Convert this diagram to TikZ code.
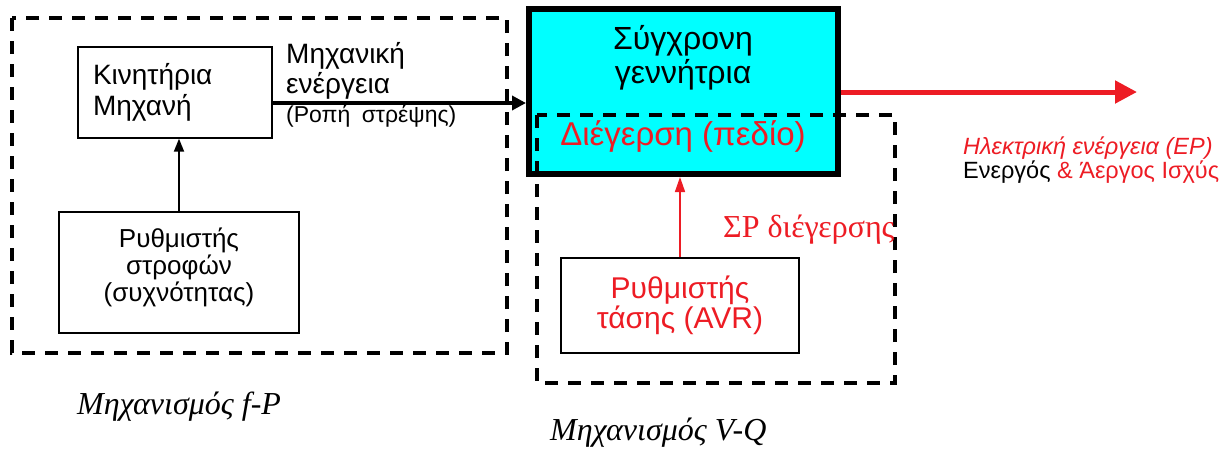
\documentclass[tikz,border=0pt]{standalone}
\usepackage{fontspec}
\setmainfont{Liberation Sans}
\newfontfamily\tms{Liberation Serif}
\usetikzlibrary{arrows.meta}
\definecolor{gred}{RGB}{237,28,36}
\definecolor{gcyan}{RGB}{0,255,255}
\begin{document}
\begin{tikzpicture}[x=1pt,y=-1pt,
  blockbox/.style={draw=black,line width=1.3pt,fill=white,inner sep=0pt},
  groupbox/.style={draw=black,line width=3.2pt,dash pattern=on 13pt off 10pt},
  txt/.style={align=center},
  caption/.style={anchor=west,inner sep=0pt,font=\tms\itshape\fontsize{32}{36}\selectfont},
]
\useasboundingbox (0,0) rectangle (1230,459);

% f-P control group
\draw[groupbox] (12,18) rectangle (507,353);
\node[blockbox,minimum width=194pt,minimum height=91pt,text width=164pt,inner xsep=15pt,
      align=left,font=\fontsize{28}{31}\selectfont] (kin) at (175,92.5) {Κινητήρια\\Μηχανή};
\node[blockbox,minimum width=240pt,minimum height=121pt] (gov) at (179,272.5) {};
\node[txt,font=\fontsize{26}{27}\selectfont] (govtxt) at (179,267) {Ρυθμιστής\\στροφών\\(συχνότητας)};
\draw[line width=1.8pt,-{Triangle[length=13pt,width=10pt]}] (gov.north) -- (gov.north |- kin.south);

% synchronous generator
\node[draw=black,fill=gcyan,line width=6pt,minimum width=309pt,minimum height=165pt,inner sep=0pt] (gen) at (683.5,91.5) {};
\node[txt,font=\fontsize{32}{34}\selectfont] (gentxt) at (683,58) {Σύγχρονη\\γεννήτρια};

% V-Q control group
\draw[groupbox] (537,115) rectangle (895,383);
\node[txt,text=gred,font=\fontsize{33}{36}\selectfont] (exc) at (683,136) {Διέγερση (πεδίο)};
\node[blockbox,minimum width=238pt,minimum height=95pt,txt,text=gred,
      font=\fontsize{30}{30}\selectfont] (avr) at (680,305.5) {Ρυθμιστής\\τάσης (AVR)};
\draw[gred,line width=1.6pt,-{Triangle[length=15pt,width=10pt]}] (avr.north) -- (avr.north |- gen.south);
\node[anchor=west,text=gred,inner sep=0pt,font=\tms\fontsize{32}{36}\selectfont] (dclabel) at (723,230) {ΣΡ διέγερσης};

% mechanical power into the generator
\draw[line width=4pt,-{Triangle[length=14pt,width=14pt]}] ([yshift=-10.5pt]kin.east) -- ([yshift=-10.5pt]kin.east -| gen.west);
\node[anchor=west,inner sep=0pt,align=left,font=\fontsize{28}{30}\selectfont] (mech) at (286,71) {Μηχανική\\ενέργεια};
\node[anchor=west,inner sep=0pt,font=\fontsize{23}{26}\selectfont] (torque) at (286,116) {(Ροπή\hspace{0.5em}στρέψης)};

% electrical power out of the generator
\coordinate (out) at (1137,92);
\draw[gred,line width=5pt,-{Triangle[length=22pt,width=22pt]}] (gen.east |- out) -- (out);
\node[anchor=west,inner sep=0pt,text=gred,font=\itshape\fontsize{23.5}{26}\selectfont] (elec) at (963,148) {Ηλεκτρική ενέργεια (ΕΡ)};
\node[anchor=west,inner sep=0pt,font=\fontsize{23.5}{26}\selectfont] (power) at (963,172) {Ενεργός \textcolor{gred}{\& Άεργος Ισχύς}};

% group captions
\node[caption] (fp) at (77,407) {Μηχανισμός f-P};
\node[caption] (vq) at (550,433) {Μηχανισμός V-Q};
\end{tikzpicture}
\end{document}
